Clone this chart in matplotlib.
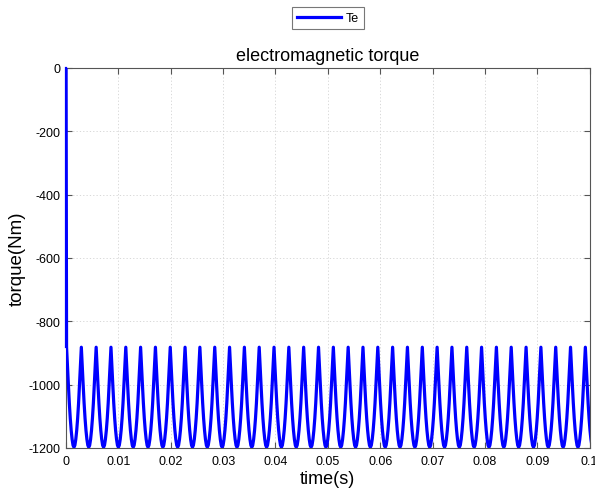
import numpy as np
import matplotlib
matplotlib.use("Agg")
import matplotlib.pyplot as plt

plt.rcParams['font.family'] = ['Liberation Sans', 'DejaVu Sans']
plt.rcParams['axes.unicode_minus'] = False

# times of the torque ripple peaks (s)
peak_times = [0.0001, 0.00292, 0.00575, 0.00858, 0.01141, 0.01424, 0.01707,
              0.01990, 0.02273, 0.02556, 0.02840, 0.03123, 0.03406, 0.03689,
              0.03972, 0.04255, 0.04538, 0.04822, 0.05105, 0.05388, 0.05671,
              0.05954, 0.06237, 0.06520, 0.06804, 0.07087, 0.07370, 0.07653,
              0.07936, 0.08219, 0.08502, 0.08786, 0.09069, 0.09352, 0.09635,
              0.09918, 0.10201]
peak_level = -882.0
trough_level = -1198.0
# depth of one ripple period, peak -> trough -> peak (fraction of full swing)
cycle_shape = [0.0, 0.2, 0.38, 0.56, 0.71, 0.83, 0.92, 0.98, 1.0,
               0.98, 0.92, 0.83, 0.71, 0.56, 0.38, 0.2, 0.0]
start_value = 0.0

xticks = [0, 0.01, 0.02, 0.03, 0.04, 0.05, 0.06, 0.07, 0.08, 0.09, 0.1]
xticklabels = ['0', '0.01', '0.02', '0.03', '0.04', '0.05', '0.06', '0.07',
               '0.08', '0.09', '0.1']
yticks = [-1200, -1000, -800, -600, -400, -200, 0]

# build the Te trace cycle by cycle
t = [0.0]
te = [start_value]
shape = np.array(cycle_shape)
phase = np.linspace(0, 1, len(shape))
for a, b in zip(peak_times[:-1], peak_times[1:]):
    t.extend(a + (b - a) * phase[:-1])
    te.extend(peak_level + (trough_level - peak_level) * shape[:-1])
t = np.array(t)
te = np.array(te)

fig = plt.figure(figsize=(5.95, 4.89), dpi=100)
ax = fig.add_axes([0.111, 0.082, 0.880, 0.777])
ax.plot(t, te, color='#0000ff', lw=2.3, label='Te', zorder=3)
# startup transient at t=0 sits right on the left border
ax.plot([t[0], t[0]], [te[0], peak_level], color='#0000ff', lw=1.6,
        clip_on=False, zorder=4)

ax.set_xlim(0, 0.1)
ax.set_ylim(-1200, 0)
ax.set_xticks(xticks)
ax.set_xticklabels(xticklabels)
ax.set_yticks(yticks)
ax.tick_params(direction='in', top=True, right=True, labelsize=9,
               length=4, color='#555555')
ax.tick_params(axis='x', pad=5)
ax.tick_params(axis='y', pad=4)
for s in ax.spines.values():
    s.set_color('#555555')
ax.grid(True, color='#d2d2d2', linestyle=(0, (1.5, 2.5)), linewidth=0.6)

ax.set_title('electromagnetic torque', fontsize=13, pad=6)
ax.set_xlabel('time(s)', fontsize=13, labelpad=2)
ax.set_ylabel('torque(Nm)', fontsize=13.5, labelpad=2)

leg = ax.legend(loc='lower center', bbox_to_anchor=(0.5, 1.085), fontsize=9,
                fancybox=False, edgecolor='#555555', handlelength=3.5,
                borderpad=0.4, handletextpad=0.4)
leg.get_frame().set_linewidth(0.8)

fig.savefig('out.png', dpi=100)
